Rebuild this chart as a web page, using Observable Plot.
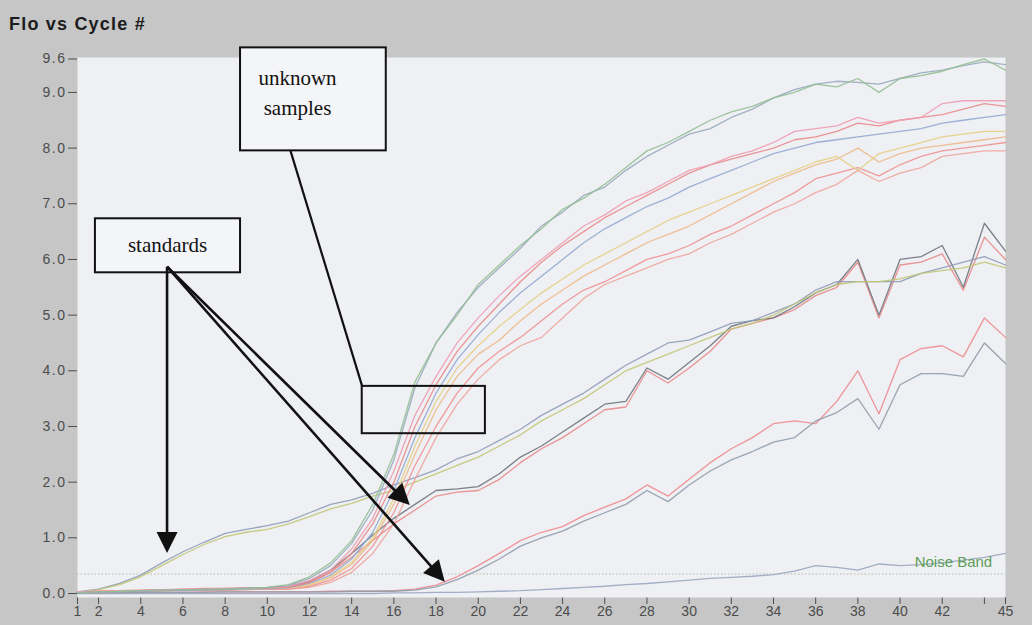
<!DOCTYPE html>
<html>
<head>
<meta charset="utf-8">
<script src="https://cdn.jsdelivr.net/npm/d3@7"></script>
<script src="https://cdn.jsdelivr.net/npm/@observablehq/plot@0.6"></script>
<style>
  html, body { margin: 0; padding: 0; background: #c6c6c6; }
  #wrap { width: 1032px; height: 625px; position: relative; overflow: hidden; background: #c6c6c6; }
  #title { height: 40px; box-sizing: border-box; padding: 14px 0 0 9px;
           font: bold 18px "Liberation Sans", Arial, sans-serif; letter-spacing: 1.2px; color: #1c1c1c; }
  #chart svg [aria-label^="y-axis"] text { letter-spacing: 1.5px; }
  #chart svg [aria-label="noise-label"] text { letter-spacing: 0.6px; }
</style>
</head>
<body>
<div id="wrap">
  <div id="title">Flo vs Cycle #</div>
  <div id="chart"></div>
</div>
<script>
// Cycle numbers 1..45
const cycles = d3.range(1, 46);

// Axis ticks
const xTicks = [1, 2, 4, 6, 8, 10, 12, 14, 16, 18, 20, 22, 24, 26, 28, 30, 32, 34, 36, 38, 40, 42, 44, 45];
const xTickLabels = ["1", "2", "4", "6", "8", "10", "12", "14", "16", "18", "20", "22", "24", "26", "28", "30", "32", "34", "36", "38", "40", "42", "", "45"];
const yTicks = [0, 1, 2, 3, 4, 5, 6, 7, 8, 9, 9.6];

// Unknown samples: fluorescence per cycle
const sampleU1 = [0.01,0.03,0.04,0.05,0.06,0.07,0.07,0.08,0.09,0.11, 0.16,0.3,0.55,0.95,1.6,2.5,3.8,4.5,5.0,5.55, 5.9,6.25,6.55,6.9,7.1,7.35,7.65,7.95,8.1,8.3, 8.5,8.65,8.75,8.9,9.0,9.15,9.1,9.25,9.0,9.25, 9.3,9.38,9.5,9.6,9.4];
const sampleU2 = [0.02,0.03,0.03,0.05,0.06,0.06,0.08,0.08,0.1,0.11, 0.14,0.27,0.5,0.9,1.5,2.4,3.7,4.5,5.05,5.5, 5.85,6.2,6.6,6.85,7.15,7.3,7.6,7.85,8.05,8.25, 8.35,8.55,8.7,8.9,9.05,9.15,9.2,9.18,9.15,9.25, 9.35,9.4,9.48,9.55,9.5];
const sampleU3 = [0.03,0.04,0.05,0.06,0.07,0.08,0.08,0.09,0.1,0.11, 0.13,0.23,0.42,0.8,1.35,2.2,3.2,3.9,4.5,4.95, 5.35,5.7,6.0,6.3,6.6,6.8,7.05,7.2,7.4,7.6, 7.7,7.85,7.95,8.1,8.3,8.35,8.4,8.55,8.45,8.5, 8.55,8.8,8.85,8.85,8.85];
const sampleU4 = [0.02,0.04,0.05,0.05,0.06,0.08,0.09,0.09,0.1,0.1, 0.11,0.2,0.38,0.72,1.25,2.0,3.0,3.75,4.35,4.8, 5.2,5.6,5.95,6.25,6.5,6.75,6.95,7.15,7.35,7.55, 7.7,7.8,7.9,8.0,8.15,8.2,8.3,8.45,8.4,8.5, 8.55,8.6,8.7,8.8,8.75];
const sampleU5 = [0.01,0.02,0.03,0.04,0.05,0.05,0.06,0.07,0.08,0.09, 0.1,0.18,0.33,0.62,1.1,1.85,2.8,3.6,4.2,4.65, 5.05,5.4,5.7,6.0,6.3,6.55,6.75,6.95,7.1,7.3, 7.45,7.6,7.75,7.9,8.0,8.1,8.15,8.2,8.25,8.3, 8.35,8.45,8.5,8.55,8.6];
const sampleU6 = [0.03,0.04,0.05,0.06,0.07,0.07,0.08,0.08,0.09,0.09, 0.09,0.15,0.28,0.52,0.95,1.6,2.5,3.3,3.9,4.3, 4.55,4.9,5.2,5.45,5.7,5.9,6.1,6.3,6.45,6.6, 6.8,7.0,7.2,7.4,7.55,7.7,7.8,8.0,7.75,7.9, 8.0,8.05,8.1,8.15,8.2];
const sampleU7 = [0.02,0.03,0.04,0.05,0.06,0.06,0.07,0.07,0.08,0.08, 0.08,0.13,0.24,0.45,0.85,1.45,2.3,3.0,3.6,4.05, 4.35,4.6,4.9,5.2,5.45,5.6,5.8,6.0,6.1,6.25, 6.45,6.6,6.8,7.0,7.2,7.45,7.55,7.65,7.5,7.7, 7.85,7.95,8.0,8.05,8.1];
const sampleU8 = [0.02,0.03,0.03,0.04,0.05,0.06,0.06,0.07,0.07,0.08, 0.08,0.11,0.2,0.38,0.72,1.25,2.05,2.8,3.4,3.85, 4.2,4.45,4.6,4.95,5.3,5.55,5.7,5.85,6.0,6.1, 6.3,6.45,6.65,6.85,7.0,7.2,7.35,7.6,7.4,7.55, 7.65,7.85,7.9,7.95,7.95];
const sampleU9 = [0.02,0.03,0.04,0.05,0.05,0.06,0.07,0.07,0.08,0.09, 0.1,0.16,0.3,0.56,1.0,1.7,2.65,3.45,4.05,4.45, 4.8,5.1,5.4,5.65,5.9,6.1,6.3,6.5,6.7,6.85, 7.0,7.15,7.3,7.45,7.6,7.75,7.85,7.6,7.9,8.0, 8.1,8.2,8.25,8.3,8.3];

// Standards: high, medium and low, each in duplicate
const stdHighA = [0.03,0.08,0.18,0.33,0.55,0.75,0.92,1.08,1.15,1.22, 1.3,1.45,1.6,1.68,1.8,1.95,2.08,2.22,2.42,2.55, 2.75,2.95,3.2,3.4,3.6,3.85,4.1,4.3,4.5,4.55, 4.7,4.85,4.9,5.05,5.2,5.45,5.6,5.6,5.6,5.6, 5.75,5.85,5.95,6.05,5.9];
const stdHighB = [0.02,0.07,0.16,0.3,0.5,0.7,0.88,1.02,1.1,1.15, 1.25,1.38,1.52,1.62,1.75,1.85,2.0,2.15,2.3,2.45, 2.65,2.85,3.1,3.3,3.5,3.75,4.0,4.15,4.3,4.45, 4.6,4.75,4.85,5.0,5.2,5.4,5.55,5.6,5.6,5.65, 5.75,5.8,5.85,5.95,5.85];
const stdMidA = [0.02,0.03,0.04,0.04,0.05,0.05,0.06,0.06,0.07,0.08, 0.1,0.2,0.38,0.65,0.95,1.25,1.5,1.75,1.82,1.85, 2.05,2.35,2.6,2.8,3.05,3.3,3.35,4.0,3.78,4.05, 4.35,4.75,4.85,4.95,5.1,5.35,5.5,5.95,4.95,5.9, 5.95,6.1,5.45,6.4,6.0];
const stdMidB = [0.02,0.03,0.03,0.04,0.05,0.06,0.06,0.07,0.08,0.09, 0.12,0.22,0.42,0.72,1.05,1.35,1.6,1.85,1.88,1.92, 2.15,2.45,2.65,2.9,3.15,3.4,3.45,4.05,3.85,4.15, 4.45,4.8,4.9,4.95,5.15,5.4,5.55,6.0,5.0,6.0, 6.05,6.25,5.5,6.65,6.15];
const stdLowA = [0.01,0.01,0.02,0.02,0.02,0.02,0.03,0.03,0.03,0.03, 0.03,0.03,0.04,0.04,0.04,0.05,0.08,0.15,0.3,0.5, 0.72,0.95,1.1,1.2,1.4,1.55,1.7,1.95,1.75,2.05, 2.35,2.6,2.8,3.05,3.1,3.05,3.45,4.0,3.23,4.2, 4.4,4.45,4.25,4.95,4.6];
const stdLowB = [0.01,0.01,0.01,0.02,0.02,0.02,0.02,0.03,0.03,0.03, 0.03,0.03,0.03,0.04,0.04,0.04,0.06,0.12,0.25,0.42, 0.62,0.85,1.0,1.12,1.3,1.45,1.6,1.85,1.65,1.95, 2.2,2.4,2.55,2.72,2.8,3.1,3.25,3.5,2.95,3.75, 3.95,3.95,3.9,4.5,4.13];

// No-template control
const controlNTC = [0,0,0,0,0,0,0,0,0,0, 0,0,0,0,0,0.01,0.01,0.02,0.02,0.03, 0.04,0.05,0.07,0.09,0.11,0.13,0.16,0.18,0.21,0.24, 0.27,0.29,0.31,0.34,0.4,0.5,0.47,0.42,0.53,0.5, 0.52,0.55,0.6,0.65,0.72];

// Noise band threshold
const noiseBand = [0.35];
const noiseLabel = ["Noise Band"];
const noiseLabelAt = [{x: 44.37, y: 0.56}];

// Series ids and their line colours
const seriesIds = ["NTC", "LowA", "LowB", "MidA", "MidB", "HighA", "HighB",
                   "U8", "U7", "U6", "U9", "U5", "U4", "U3", "U2", "U1"];
const seriesValues = [controlNTC, stdLowA, stdLowB, stdMidA, stdMidB, stdHighA, stdHighB,
                      sampleU8, sampleU7, sampleU6, sampleU9, sampleU5, sampleU4, sampleU3, sampleU2, sampleU1];
const seriesColors = ["#9aa6c0", "#ee8a8e", "#8e9cab", "#e98888", "#6e747c", "#8e9cb6", "#c2c674",
                      "#f0a49c", "#f09090", "#f0b888", "#e6cf84", "#93a8d2", "#ea8a8a", "#f09cb0", "#98a8bc", "#94bf92"];

// Annotation geometry (data units: cycle, fluorescence)
const noteBoxes = [
  {x1: 1.85, x2: 8.73, y1: 5.76, y2: 6.73},
  {x1: 8.73, x2: 15.64, y1: 7.95, y2: 9.8}
];
const focusBox = [{x1: 14.5, x2: 20.34, y1: 2.87, y2: 3.72}];
const noteTexts = ["standards", "unknown", "samples"];
const noteTextAt = [{x: 5.27, y: 6.25}, {x: 11.43, y: 9.25}, {x: 11.43, y: 8.71}];
const leaderLine = [{x1: 11.1, y1: 7.95, x2: 14.5, y2: 3.72}];
const pointerFrom = {x: 5.27, y: 5.86};
const pointerTips = [{x: 5.27, y: 0.72}, {x: 16.78, y: 1.58}, {x: 18.44, y: 0.2}];

const rows = seriesIds.flatMap((id, k) =>
  seriesValues[k].map((v, i) => ({id, cycle: cycles[i], flo: v})));

const tickLabelOf = new Map(xTicks.map((t, i) => [t, xTickLabels[i]]));

// Arrows with solid triangular heads, placed through the plot's scales
function pointerArrows(index, scales) {
  const g = d3.create("svg:g").attr("aria-label", "pointers");
  if (!scales || !scales.x || !scales.y) return g.node();
  const {x, y} = scales;
  const L = 21, W = 10.5;
  for (const tip of pointerTips) {
    const x0 = x(pointerFrom.x), y0 = y(pointerFrom.y);
    const x1 = x(tip.x), y1 = y(tip.y);
    const a = Math.atan2(y1 - y0, x1 - x0);
    const bx = x1 - L * Math.cos(a), by = y1 - L * Math.sin(a);
    const px = -Math.sin(a) * W, py = Math.cos(a) * W;
    g.append("line")
      .attr("x1", x0).attr("y1", y0).attr("x2", bx + Math.cos(a)).attr("y2", by + Math.sin(a))
      .attr("stroke", "#111").attr("stroke-width", 2.6);
    g.append("path")
      .attr("d", `M${x1},${y1}L${bx + px},${by + py}L${bx - px},${by - py}Z`)
      .attr("fill", "#111");
  }
  return g.node();
}

const chart = Plot.plot({
  width: 1032,
  height: 585,
  marginTop: 17,
  marginBottom: 28,
  marginLeft: 77,
  marginRight: 27,
  style: {background: "transparent", color: "#4c4c4c", fontFamily: "'Liberation Sans', Arial, sans-serif", fontSize: "14px", overflow: "visible"},
  x: {domain: [1, 45], ticks: xTicks, tickFormat: d => tickLabelOf.get(d), tickSize: 7, tickPadding: 2, label: null},
  y: {domain: [0, 9.6], insetTop: 1.5, insetBottom: 4, ticks: yTicks, tickFormat: d3.format(".1f"), tickSize: 9, tickPadding: 2, label: null},
  color: {domain: seriesIds, range: seriesColors},
  marks: [
    Plot.frame({fill: "#eef0f4", stroke: "none"}),
    Plot.ruleY(noiseBand, {stroke: "#b3bca6", strokeWidth: 1.2, strokeDasharray: "1.5,2"}),
    Plot.line(rows, {x: "cycle", y: "flo", z: "id", stroke: "id", strokeWidth: 1.3, strokeOpacity: 0.9}),
    Plot.text(noiseLabel, {x: noiseLabelAt.map(d => d.x), y: noiseLabelAt.map(d => d.y), text: d => d,
      textAnchor: "end", fill: "#5e9e58", fontSize: 15, ariaLabel: "noise-label"}),
    Plot.rect(noteBoxes, {x1: "x1", x2: "x2", y1: "y1", y2: "y2", fill: "#f4f5f8", stroke: "#111", strokeWidth: 2}),
    Plot.rect(focusBox, {x1: "x1", x2: "x2", y1: "y1", y2: "y2", fill: "none", stroke: "#111", strokeWidth: 2}),
    Plot.link(leaderLine, {x1: "x1", y1: "y1", x2: "x2", y2: "y2", stroke: "#111", strokeWidth: 2.2}),
    Plot.text(noteTexts, {x: noteTextAt.map(d => d.x), y: noteTextAt.map(d => d.y), text: d => d,
      fill: "#111", fontSize: 21, fontFamily: "'Liberation Serif', 'Times New Roman', serif"}),
    pointerArrows
  ]
});

document.getElementById("chart").appendChild(chart);
</script>
</body>
</html>
